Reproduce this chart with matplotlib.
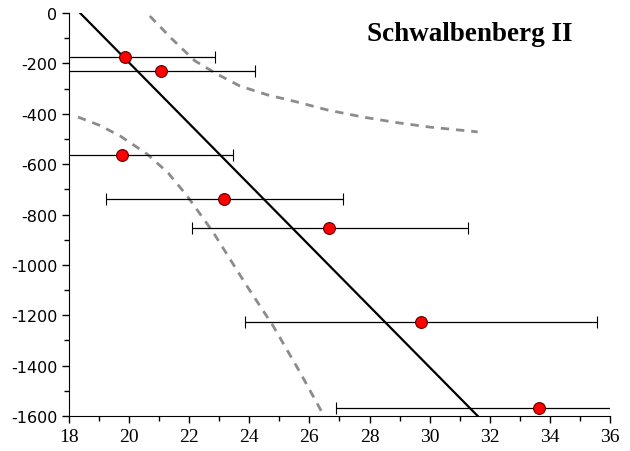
import numpy as np
import matplotlib.pyplot as plt
from matplotlib.ticker import MultipleLocator

plt.rcParams['axes.unicode_minus'] = False

# data points with horizontal error bars
x_pts = [19.85, 21.05, 19.75, 23.15, 26.65, 29.7, 33.65]
y_pts = [-176, -230, -565, -738, -854, -1228, -1568]
x_lo = [3.0, 3.15, 3.7, 3.92, 4.56, 5.85, 6.77]
x_hi = [3.0, 3.15, 3.7, 3.98, 4.62, 5.86, 6.8]

# regression line
fit_x = [18.37, 31.6]
fit_y = [0, -1600]

# confidence band
up_x = [20.69, 21.4, 22.19, 22.92, 23.69, 24.6, 25.58, 26.6, 27.78, 28.9, 30.01, 31.6]
up_y = [-12, -100, -190, -242, -290, -325, -353, -385, -413, -435, -453, -472]
lo_x = [18.3, 19.0, 19.7, 20.6, 21.3, 21.93, 22.79, 23.92, 24.79, 25.68, 26.45]
lo_y = [-413, -445, -488, -560, -635, -726, -869, -1084, -1242, -1425, -1592]

fig = plt.figure(figsize=(6.3, 4.52), dpi=100)
ax = fig.add_axes([0.1095, 0.0774, 0.8587, 0.8916])

ax.plot(up_x, up_y, color='#8c8c8c', lw=2, dashes=(3, 2.5))
ax.plot(lo_x, lo_y, color='#8c8c8c', lw=2, dashes=(3, 2.5))
ax.plot(fit_x, fit_y, color='black', lw=1.6)
ax.errorbar(x_pts, y_pts, xerr=[x_lo, x_hi], fmt='o', color='black', ecolor='black',
            elinewidth=0.9, capsize=4, capthick=0.9, mfc='red', mec='#5a0000',
            mew=0.8, ms=8.5, zorder=3)

ax.set_xlim(18, 36)
ax.set_ylim(-1600, 0)
ax.xaxis.set_major_locator(MultipleLocator(2))
ax.xaxis.set_minor_locator(MultipleLocator(1))
ax.yaxis.set_major_locator(MultipleLocator(200))
ax.yaxis.set_minor_locator(MultipleLocator(100))
ax.spines['top'].set_visible(False)
ax.spines['right'].set_visible(False)
ax.tick_params(which='major', length=5, width=1, direction='out')
ax.tick_params(which='minor', length=3.5, width=1, direction='out')
for lab in ax.get_xticklabels():
    lab.set_family('Liberation Serif')
    lab.set_fontsize(14)
for lab in ax.get_yticklabels():
    lab.set_family('DejaVu Sans')
    lab.set_fontsize(11.5)

ax.text(0.93, 0.95, 'Schwalbenberg II', transform=ax.transAxes, ha='right', va='center',
        family='Liberation Serif', weight='bold', fontsize=19.5)

fig.savefig('out.png', dpi=100)
